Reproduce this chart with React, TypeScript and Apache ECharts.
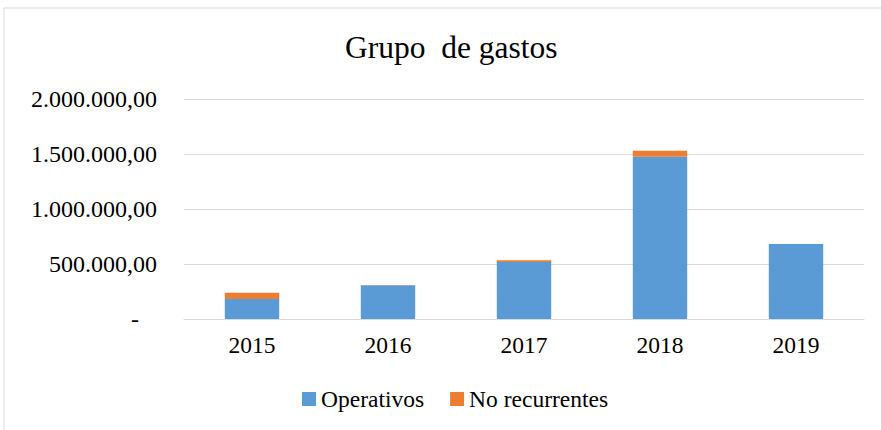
import React, { useEffect, useRef } from "react";
import * as echarts from "echarts";

const years = ["2015", "2016", "2017", "2018", "2019"];
const operativos = [182000, 306000, 518000, 1475000, 682000];
const noRecurrentes = [57000, 3000, 15000, 55000, 0];
const yTicks = [0, 500000, 1000000, 1500000, 2000000];

const fmt = (v: number) => {
  if (v === 0) return "-   ";
  const s = Math.round(v).toString().replace(/\B(?=(\d{3})+(?!\d))/g, ".");
  return s + ",00";
};

const FONT = "'Liberation Serif', 'Times New Roman', serif";

export default function App() {
  const ref = useRef<HTMLDivElement>(null);
  useEffect(() => {
    if (!ref.current) return;
    const chart = echarts.init(ref.current, undefined, { renderer: "svg" });
    chart.setOption({
      animation: false,
      backgroundColor: "#ffffff",
      textStyle: { fontFamily: FONT },
      title: {
        text: "Grupo  de gastos",
        left: 340,
        top: 26,
        textStyle: { fontFamily: FONT, fontSize: 31.5, fontWeight: "normal", color: "#000" },
      },
      graphic: [
        {
          type: "rect",
          shape: { x: 4, y: 8, width: 1000, height: 1000 },
          style: { fill: "none", stroke: "#d9d9d9", lineWidth: 1 },
          silent: true,
          z: -1,
        },
      ],
      legend: {
        bottom: 14,
        left: 297,
        itemWidth: 14,
        itemHeight: 14,
        itemGap: 26,
        icon: "rect",
        textStyle: { fontFamily: FONT, fontSize: 23.5, color: "#000" },
        data: ["Operativos", "No recurrentes"],
      },
      grid: { left: 184, right: 17, top: 99, bottom: 111 },
      xAxis: {
        type: "category",
        data: years,
        axisTick: { show: false },
        axisLine: { lineStyle: { color: "#d9d9d9" } },
        axisLabel: { fontFamily: FONT, fontSize: 23.5, color: "#000", margin: 14 },
      },
      yAxis: {
        type: "value",
        min: yTicks[0],
        max: yTicks[yTicks.length - 1],
        interval: yTicks[1] - yTicks[0],
        axisLine: { show: false },
        axisTick: { show: false },
        splitLine: { lineStyle: { color: "#d9d9d9" } },
        axisLabel: {
          fontFamily: FONT,
          fontSize: 24,
          color: "#000",
          margin: 27,
          formatter: (v: number) => fmt(v),
        },
      },
      series: [
        {
          name: "Operativos",
          type: "bar",
          stack: "total",
          data: operativos,
          barCategoryGap: "60%",
          itemStyle: { color: "#5B9BD5" },
        },
        {
          name: "No recurrentes",
          type: "bar",
          stack: "total",
          data: noRecurrentes,
          barCategoryGap: "60%",
          itemStyle: { color: "#ED7D31" },
        },
      ],
    });
    return () => chart.dispose();
  }, []);
  return <div ref={ref} style={{ width: 881, height: 430, position: "absolute", left: 0, top: 0 }} />;
}
